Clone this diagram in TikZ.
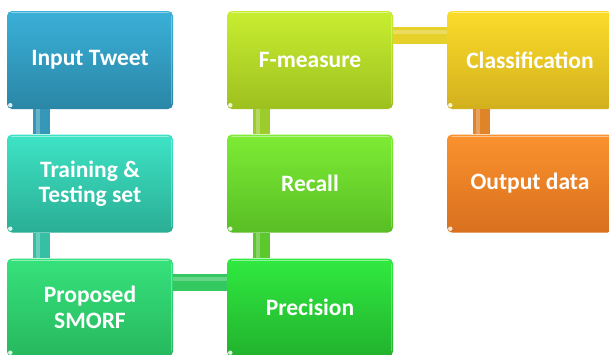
\documentclass[tikz,border=0pt]{standalone}
\usepackage{fontspec}
\setmainfont{Carlito}
\definecolor{inT}{HTML}{3BB0D8}\definecolor{inB}{HTML}{2A86A6}
\definecolor{trT}{HTML}{3EE3C6}\definecolor{trB}{HTML}{2AAE94}
\definecolor{smT}{HTML}{36E27C}\definecolor{smB}{HTML}{27B85E}
\definecolor{prT}{HTML}{30EA40}\definecolor{prB}{HTML}{22B22E}
\definecolor{reT}{HTML}{7EEC34}\definecolor{reB}{HTML}{58BE25}
\definecolor{fmT}{HTML}{C8EE30}\definecolor{fmB}{HTML}{9EC020}
\definecolor{clT}{HTML}{FCDC2A}\definecolor{clB}{HTML}{D2B01E}
\definecolor{ouT}{HTML}{FB922E}\definecolor{ouB}{HTML}{D8701E}
\definecolor{cA}{HTML}{3598B8}
\definecolor{cB}{HTML}{36BFA4}
\definecolor{cC}{HTML}{34C860}
\definecolor{cD}{HTML}{5CC82E}
\definecolor{cE}{HTML}{9CCB2C}
\definecolor{cF}{HTML}{E6D02A}
\definecolor{cG}{HTML}{E0842A}
\tikzset{
  flowbox/.style 2 args={rounded corners=5pt, top color=#1, bottom color=#2,
    draw=none, minimum width=166pt, minimum height=98pt, text=white,
    font=\bfseries\fontsize{23.5}{25.5}\selectfont, align=center, inner sep=0pt},
  vconn/.style={line width=17pt, line cap=butt, draw=#1},
  hconn/.style={line width=17pt, line cap=butt, draw=#1},
  shine/.style={draw=white, opacity=0.45, line width=1.2pt, line cap=round},
  cshine/.style={draw=white, opacity=0.25, line width=4pt},
  dot/.style={fill=white, opacity=0.85},
}
\newcommand\flowdeco[1]{%
  \draw[shine] ([xshift=5pt,yshift=-1.8pt]#1.north west) -- ([xshift=-5pt,yshift=-1.8pt]#1.north east);
  \draw[shine, opacity=0.3] ([xshift=-1.8pt,yshift=-6pt]#1.north east) -- ([xshift=-1.8pt,yshift=6pt]#1.south east);
  \fill[dot] ([xshift=3.5pt,yshift=4pt]#1.south west) circle (2.2pt);
}
\begin{document}
\begin{tikzpicture}[x=1pt,y=-1pt]
\useasboundingbox (0,0) rectangle (609,354);
\fill[white] (0,0) rectangle (609,354);
% boxes
\node[flowbox={inT}{inB}] (input) at (90,60) {Input Tweet};
\node[flowbox={trT}{trB}] (train) at (90,183.5) {Training \&\\Testing set};
\node[flowbox={smT}{smB}] (smorf) at (90,307.5) {Proposed\\SMORF};
\node[flowbox={prT}{prB}] (prec) at (310,307.5) {Precision};
\node[flowbox={reT}{reB}] (recall) at (310,183.5) {Recall};
\node[flowbox={fmT}{fmB}] (fmeas) at (310,60) {F-measure};
\node[flowbox={clT}{clB}] (class) at (530,60) {Classification};
\node[flowbox={ouT}{ouB}] (output) at (530,183.5) {Output data};
\foreach \n in {input,train,smorf,prec,recall,fmeas,class,output}{\flowdeco{\n}}
% connectors
\draw[vconn=cA] ([xshift=-48.5pt]input.south) -- ([xshift=-48.5pt]train.north);
\draw[vconn=cB] ([xshift=-48.5pt]train.south) -- ([xshift=-48.5pt]smorf.north);
\draw[hconn=cC] ([yshift=25pt]smorf.east) -- ([yshift=25pt]prec.west);
\draw[vconn=cD] ([xshift=-48.5pt]prec.north) -- ([xshift=-48.5pt]recall.south);
\draw[vconn=cE] ([xshift=-48.5pt]recall.north) -- ([xshift=-48.5pt]fmeas.south);
\draw[hconn=cF] ([yshift=25pt]fmeas.east) -- ([yshift=25pt]class.west);
\draw[vconn=cG] ([xshift=-48.5pt]class.south) -- ([xshift=-48.5pt]output.north);
% connector highlights
\draw[cshine] ([xshift=-52pt]input.south) -- ([xshift=-52pt]train.north);
\draw[cshine] ([xshift=-52pt]train.south) -- ([xshift=-52pt]smorf.north);
\draw[cshine] ([yshift=28.5pt]smorf.east) -- ([yshift=28.5pt]prec.west);
\draw[cshine] ([xshift=-52pt]prec.north) -- ([xshift=-52pt]recall.south);
\draw[cshine] ([xshift=-52pt]recall.north) -- ([xshift=-52pt]fmeas.south);
\draw[cshine] ([yshift=28.5pt]fmeas.east) -- ([yshift=28.5pt]class.west);
\draw[cshine] ([xshift=-52pt]class.south) -- ([xshift=-52pt]output.north);
\end{tikzpicture}
\end{document}
